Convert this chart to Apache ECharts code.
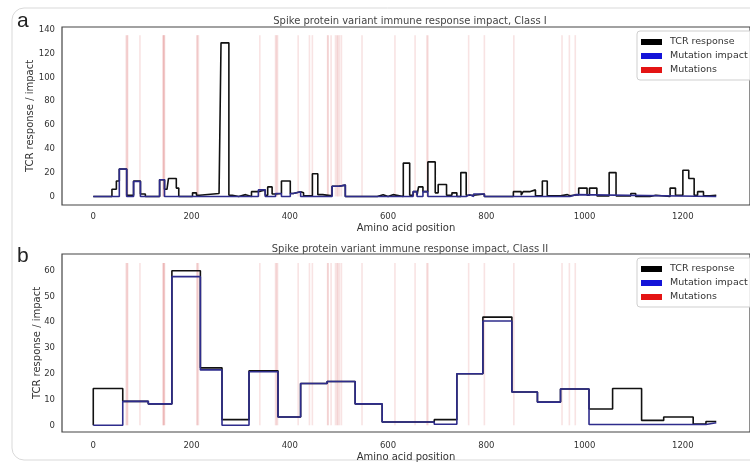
<!DOCTYPE html>
<html><head><meta charset="utf-8">
<script src="https://cdn.jsdelivr.net/npm/echarts@6/dist/echarts.min.js"></script>
<style>html,body{margin:0;padding:0;background:#fff}#c{width:750px;height:465px}</style>
</head><body><div id="c"></div>
<script>
const xTicks = [0, 200, 400, 600, 800, 1000, 1200];
const yTicksA = [0, 20, 40, 60, 80, 100, 120, 140];
const yTicksB = [0, 10, 20, 30, 40, 50, 60];
const seriesNames = ['TCR response', 'Mutation impact', 'Mutations'];
const titleA = 'Spike protein variant immune response impact, Class I';
const titleB = 'Spike protein variant immune response impact, Class II';
const xName = 'Amino acid position';
const yName = 'TCR response / impact';

// Omicron spike mutation positions
const mutations = [67, 69, 70, 95, 142, 143, 144, 145, 211, 212, 214, 339, 371, 373, 375, 417, 440, 446,
  477, 478, 484, 493, 496, 498, 501, 505, 547, 614, 655, 679, 681, 764, 796, 856, 954, 969, 981];

// step breakpoints [position, value] - value holds until next position
const tcrA = [[0,0],[38,6],[47,13],[53,23],[68,1],[82,13],[96,2],[106,0],[135,14],[145,6],[150,7],[153,15],[169,7],[174,0],
  [202,3],[210,1],[216,2.5],[256,1],[260,129],[276,1],[283,0],[296,1.5],[310,0],[322,4],[336,5.5],[350,1],[355,8],[364,2],
  [371,2.5],[383,13],[401,2.5],[407,4],[422,3],[428,0.5],[446,19],[457,1.5],[467,0.5],[486,8.5],[500,9.5],[513,0],
  [578,1.5],[590,0],[600,1.5],[610,0],[631,28],[644,1],[651,4],[659,1],[662,8],[671,4],[681,29],[696,3],[702,10],[719,1],
  [730,3],[740,0],[748,20],[759,1],[774,2],[796,0],[855,4],[871,1],[875,4],[888,5.5],[900,0.5],[914,13],[924,0.5],
  [951,1.5],[965,0.5],[970,1.5],[988,7],[1005,1],[1010,7],[1025,0.5],[1050,20],[1064,0.5],[1094,2.5],[1104,0],
  [1133,1],[1145,0],[1174,7],[1185,1],[1200,22],[1212,15],[1223,1],[1230,4],[1242,0.5],[1255,1],[1268,1]];
const impactA = [[0,0],[53,23],[68,0],[82,12.5],[96,0],[135,14],[145,0],[336,5.5],[350,0],[371,2.5],[383,0],[401,2.5],
  [407,4],[422,0],[486,8.5],[500,9.5],[513,0],[651,4],[659,0],[671,4],[681,0],[759,1.5],[766,0],[774,2],[796,0],
  [970,1.5],[982,0],[1268,0]];
const tcrB = [[0,0],[0,14.3],[60,9.3],[112,8.3],[160,60],[218,22.3],[262,2.2],[317,21.2],[376,3.2],[422,16.2],[476,17],
  [533,8.3],[588,1.3],[694,2.2],[740,20],[793,42],[852,12.9],[904,9],[951,14.1],[1009,6.3],[1057,14.3],[1116,1.9],
  [1161,3.2],[1221,0.5],[1247,1.5],[1268,1.5]];
const impactB = [[0,0],[60,9.3],[112,8.3],[160,57.7],[218,21.5],[262,0],[317,20.8],[376,3.2],[422,16.2],[476,17],
  [533,8.3],[588,1.3],[694,0.4],[740,20],[793,40.5],[852,12.9],[904,9],[951,14.1],[1009,0.3],[1247,1],[1268,1]];

const FONT = 'DejaVu Sans';
const maxOf = arr => Math.max(...arr.map(d => d[1]));
const vTopA = Math.max(maxOf(tcrA), maxOf(impactA)) * 1.05;
const vTopB = Math.max(maxOf(tcrB), maxOf(impactB)) * 1.05;

const chart = echarts.init(document.getElementById('c'), null, {renderer: 'canvas'});

function xAxis(gi, margin, gap) {
  return {
    type: 'value', gridIndex: gi, min: -63.65, max: 1336.65,
    axisLine: {show: false}, axisTick: {show: false}, splitLine: {show: false},
    axisLabel: {customValues: xTicks, margin: margin, fontSize: 8.5, color: '#333', fontFamily: FONT,
      formatter: v => String(v)},
    name: xName, nameLocation: 'middle', nameGap: gap, nameMoveOverlap: false,
    nameTextStyle: {fontSize: 10, color: '#333', fontFamily: FONT}
  };
}
function yAxis(gi, min, max, ticks, gap) {
  return {
    type: 'value', gridIndex: gi, min: min, max: max,
    axisLine: {show: false}, axisTick: {show: false}, splitLine: {show: false},
    axisLabel: {customValues: ticks, margin: 7, fontSize: 8.5, color: '#333', fontFamily: FONT,
      formatter: v => String(v)},
    name: yName, nameLocation: 'middle', nameGap: gap, nameRotate: 90, nameMoveOverlap: false,
    nameTextStyle: {fontSize: 10, color: '#333', fontFamily: FONT}
  };
}
function mutSeries(gi, top) {
  return {
    name: seriesNames[2], type: 'custom', xAxisIndex: gi, yAxisIndex: gi, z: 1,
    itemStyle: {color: '#e01010'},
    data: mutations.map(p => [p, top]),
    encode: {x: 0, y: 1},
    renderItem: function (params, api) {
      const x = api.value(0);
      const p0 = api.coord([x, 0]);
      const p1 = api.coord([x, api.value(1)]);
      return {type: 'line', shape: {x1: p0[0], y1: p0[1], x2: p1[0], y2: p1[1]},
        style: {stroke: 'rgba(205,70,70,0.15)', lineWidth: 1.6}};
    }
  };
}
function stepSeries(name, gi, data, color, z) {
  return {
    name: name, type: 'line', xAxisIndex: gi, yAxisIndex: gi, step: 'end', data: data,
    showSymbol: false, symbol: 'none', z: z, color: color,
    lineStyle: {color: color, width: 1.6}, emphasis: {disabled: true}
  };
}
function legend(top) {
  return {
    left: 637, top: top, orient: 'vertical', icon: 'rect', itemWidth: 21, itemHeight: 6, itemGap: 2,
    padding: [5, 20, 4, 4], borderColor: '#cfcfcf', borderWidth: 1, borderRadius: 3,
    backgroundColor: 'rgba(255,255,255,0.85)',
    textStyle: {fontSize: 9.5, color: '#333', fontFamily: FONT, lineHeight: 12, padding: [0, 0, 0, 3]},
    data: [
      {name: seriesNames[0], itemStyle: {color: '#000000'}},
      {name: seriesNames[1], itemStyle: {color: '#1414d8'}},
      {name: seriesNames[2], itemStyle: {color: '#e41414'}}
    ]
  };
}

chart.setOption({
  animation: false,
  backgroundColor: '#fff',
  graphic: [
    {type: 'rect', shape: {x: 12, y: 8, width: 770, height: 452, r: 12},
      style: {fill: 'none', stroke: '#d9d9d9', lineWidth: 1}, z: -10, silent: true},
    {type: 'text', x: 17, y: 21, style: {text: 'a', fontSize: 21, fontFamily: 'Liberation Sans', fill: '#222', verticalAlign: 'middle'}},
    {type: 'text', x: 17, y: 256, style: {text: 'b', fontSize: 21, fontFamily: 'Liberation Sans', fill: '#222', verticalAlign: 'middle'}}
  ],
  title: [
    {text: titleA, left: 410, top: 16, textAlign: 'center', padding: 0,
      textStyle: {fontSize: 10, fontWeight: 'normal', color: '#444', fontFamily: FONT}},
    {text: titleB, left: 410, top: 244, textAlign: 'center', padding: 0,
      textStyle: {fontSize: 10, fontWeight: 'normal', color: '#444', fontFamily: FONT}}
  ],
  legend: [legend(31), legend(258)],
  grid: [
    {left: 62, top: 27, width: 697, height: 178, show: true, borderColor: '#444', borderWidth: 1.2, backgroundColor: 'transparent'},
    {left: 62, top: 254, width: 697, height: 178, show: true, borderColor: '#444', borderWidth: 1.2, backgroundColor: 'transparent'}
  ],
  xAxis: [xAxis(0, 7, 18), xAxis(1, 9, 20)],
  yAxis: [yAxis(0, -7.2, 142.3, yTicksA, 27), yAxis(1, -2.6, 66.5, yTicksB, 20)],
  series: [
    mutSeries(0, vTopA),
    stepSeries(seriesNames[0], 0, tcrA, '#111111', 2),
    stepSeries(seriesNames[1], 0, impactA, '#2e2c8c', 3),
    mutSeries(1, vTopB),
    stepSeries(seriesNames[0], 1, tcrB, '#111111', 2),
    stepSeries(seriesNames[1], 1, impactB, '#2e2c8c', 3)
  ]
});
</script>
</body></html>
